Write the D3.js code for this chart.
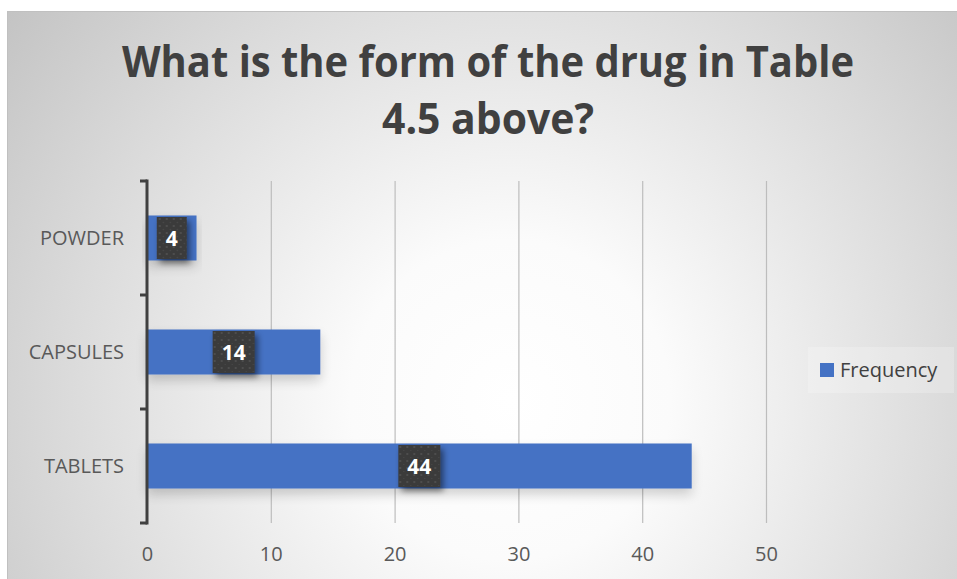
<!DOCTYPE html>
<html>
<head>
<meta charset="utf-8">
<script src="https://cdn.jsdelivr.net/npm/d3@7"></script>
<style>
  html, body { margin: 0; padding: 0; background: #ffffff; }
  svg { display: block; }
  text { font-family: "Open Sans", "Liberation Sans", sans-serif; }
</style>
</head>
<body>
<svg id="chart" width="957" height="579"></svg>
<script>
// Data
const categories = ["POWDER", "CAPSULES", "TABLETS"];
const frequency = [4, 14, 44];
const xTicks = [0, 10, 20, 30, 40, 50];
const titleLines = ["What is the form of the drug in Table", "4.5 above?"];
const seriesName = "Frequency";

const W = 957, H = 579;
const svg = d3.select("#chart");
const defs = svg.append("defs");

// Background: soft radial gradient
const bg = defs.append("radialGradient").attr("id", "bgGrad")
  .attr("gradientUnits", "userSpaceOnUse")
  .attr("cx", 510).attr("cy", 400).attr("r", 640)
  .attr("fx", 510).attr("fy", 400);
bg.append("stop").attr("offset", 0).attr("stop-color", "#ffffff");
bg.append("stop").attr("offset", 0.25).attr("stop-color", "#fbfbfb");
bg.append("stop").attr("offset", 0.7).attr("stop-color", "#dadada");
bg.append("stop").attr("offset", 1).attr("stop-color", "#c3c3c3");

// Dot texture for data label boxes
const pat = defs.append("pattern").attr("id", "dots")
  .attr("patternUnits", "userSpaceOnUse").attr("width", 7).attr("height", 7);
pat.append("rect").attr("width", 7).attr("height", 7).attr("fill", "#3a3a3a");
pat.append("circle").attr("cx", 2).attr("cy", 2).attr("r", 1).attr("fill", "#555555");
pat.append("circle").attr("cx", 5.5).attr("cy", 5.5).attr("r", 0.7).attr("fill", "#4a4a4a");

// Shadows
const barShadow = defs.append("filter").attr("id", "barShadow")
  .attr("x", "-10%").attr("y", "-40%").attr("width", "120%").attr("height", "190%");
barShadow.append("feGaussianBlur").attr("in", "SourceAlpha").attr("stdDeviation", 6).attr("result", "b");
barShadow.append("feOffset").attr("in", "b").attr("dx", 0).attr("dy", 6).attr("result", "o");
barShadow.append("feComponentTransfer").attr("in", "o").attr("result", "s")
  .append("feFuncA").attr("type", "linear").attr("slope", 0.18);
const bm = barShadow.append("feMerge");
bm.append("feMergeNode").attr("in", "s");
bm.append("feMergeNode").attr("in", "SourceGraphic");

const lblShadow = defs.append("filter").attr("id", "lblShadow")
  .attr("x", "-40%").attr("y", "-40%").attr("width", "190%").attr("height", "190%");
lblShadow.append("feGaussianBlur").attr("in", "SourceAlpha").attr("stdDeviation", 3).attr("result", "b");
lblShadow.append("feOffset").attr("in", "b").attr("dx", 3).attr("dy", 4).attr("result", "o");
lblShadow.append("feComponentTransfer").attr("in", "o").attr("result", "s")
  .append("feFuncA").attr("type", "linear").attr("slope", 0.5);
const lm = lblShadow.append("feMerge");
lm.append("feMergeNode").attr("in", "s");
lm.append("feMergeNode").attr("in", "SourceGraphic");

// Chart area
svg.append("rect").attr("x", 7.5).attr("y", 11.5).attr("width", W - 7).attr("height", H - 11)
  .attr("fill", "url(#bgGrad)").attr("stroke", "#c0c0c0").attr("stroke-width", 1);

// Title
const title = svg.append("g");
const titleWidths = [732, 212];
titleLines.forEach((t, i) => {
  const tx = title.append("text")
    .attr("x", 488).attr("y", 77 + i * 57)
    .attr("text-anchor", "middle")
    .attr("font-weight", 700).attr("font-size", 43)
    .attr("fill", "#404040")
    .text(t);
  const len = tx.node().getComputedTextLength();
  if (len > titleWidths[i]) {
    tx.attr("textLength", titleWidths[i]).attr("lengthAdjust", "spacingAndGlyphs");
  }
});

// Scales
const plot = { left: 147, right: 766, top: 181, bottom: 523 };
const x = d3.scaleLinear().domain([0, 50]).range([plot.left, plot.right]);
const y = d3.scaleBand().domain(categories).range([plot.top, plot.bottom])
  .paddingInner(0.605).paddingOuter(0.3025);
const yBands = d3.scaleBand().domain(categories).range([plot.top, plot.bottom]).padding(0);

// Vertical gridlines
svg.append("g")
  .attr("transform", `translate(0,${plot.bottom})`)
  .call(d3.axisBottom(x).tickValues(xTicks.filter(v => v > 0))
    .tickSize(-(plot.bottom - plot.top)).tickFormat(""))
  .call(g => g.select(".domain").remove())
  .call(g => g.selectAll("line").attr("stroke", "#bdbdbd").attr("stroke-width", 1.2));

// X tick labels
svg.append("g")
  .attr("transform", `translate(0,${plot.bottom})`)
  .call(d3.axisBottom(x).tickValues(xTicks).tickSize(0).tickPadding(24).tickFormat(d3.format("d")))
  .call(g => g.select(".domain").remove())
  .call(g => g.selectAll("text")
    .attr("font-family", "'Open Sans', sans-serif")
    .attr("font-size", 20).attr("fill", "#595959"));

// Bars
svg.append("g").selectAll("rect")
  .data(categories.map((c, i) => ({ c, v: frequency[i] })))
  .join("rect")
  .attr("x", x(0))
  .attr("y", d => y(d.c))
  .attr("width", d => x(d.v) - x(0))
  .attr("height", y.bandwidth())
  .attr("fill", "#4472c4")
  .attr("filter", "url(#barShadow)");

// Category axis with tick marks at band boundaries
const boundaries = categories.map(c => yBands(c)).concat([plot.bottom]);
const yAxis = svg.append("g");
yAxis.append("line")
  .attr("x1", plot.left).attr("x2", plot.left)
  .attr("y1", plot.top - 1.5).attr("y2", plot.bottom + 1.5)
  .attr("stroke", "#404040").attr("stroke-width", 3);
yAxis.selectAll(".tk").data(boundaries).join("line").attr("class", "tk")
  .attr("x1", plot.left - 7).attr("x2", plot.left)
  .attr("y1", d => d).attr("y2", d => d)
  .attr("stroke", "#404040").attr("stroke-width", 3);
yAxis.selectAll(".cat").data(categories).join("text").attr("class", "cat")
  .attr("x", plot.left - 23)
  .attr("y", d => yBands(d) + yBands.bandwidth() / 2)
  .attr("dy", "0.35em")
  .attr("text-anchor", "end")
  .attr("font-size", 20).attr("fill", "#595959")
  .text(d => d);

// Data labels
const labels = svg.append("g").selectAll("g")
  .data(categories.map((c, i) => ({ c, v: frequency[i] })))
  .join("g")
  .attr("transform", d => `translate(${(x(0) + x(d.v)) / 2},${y(d.c) + y.bandwidth() / 2})`);
labels.each(function (d) {
  const g = d3.select(this);
  const box = g.append("rect").attr("filter", "url(#lblShadow)").attr("fill", "url(#dots)");
  const t = g.append("text")
    .attr("text-anchor", "middle").attr("dy", "0.36em")
    .attr("font-weight", 700).attr("font-size", 21).attr("fill", "#ffffff")
    .text(d.v);
  const w = t.node().getComputedTextLength() + 18;
  box.attr("x", -w / 2).attr("y", -21).attr("width", w).attr("height", 42);
});

// Legend
const legend = svg.append("g");
legend.append("rect").attr("x", 808).attr("y", 347).attr("width", 146).attr("height", 46)
  .attr("fill", "#ffffff").attr("fill-opacity", 0.22);
legend.append("rect").attr("x", 820).attr("y", 363).attr("width", 14).attr("height", 14)
  .attr("fill", "#4472c4");
legend.append("text").attr("x", 840).attr("y", 370).attr("dy", "0.36em")
  .attr("font-size", 20).attr("fill", "#404040").text(seriesName);
</script>
</body>
</html>
